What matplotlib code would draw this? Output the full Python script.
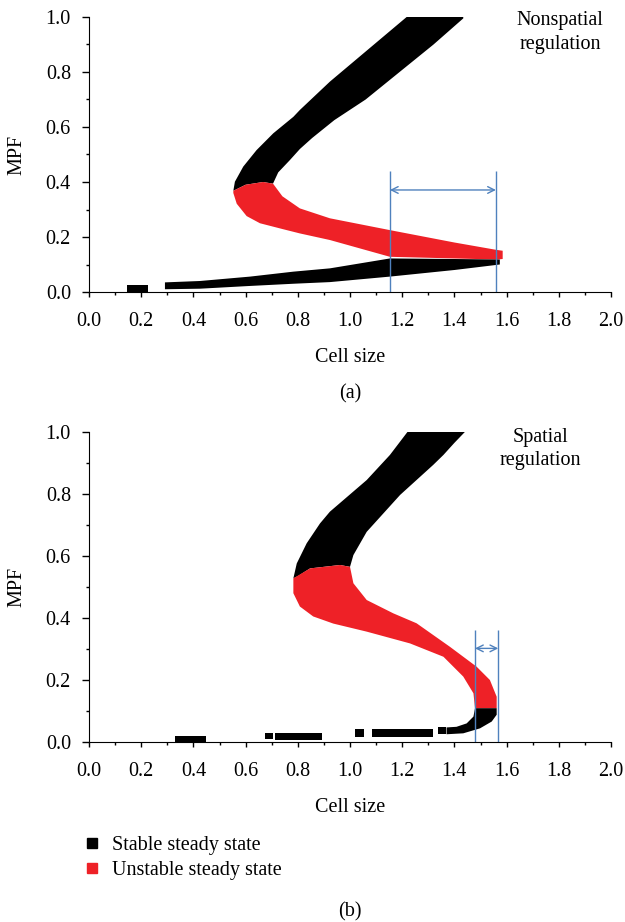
import numpy as np
import matplotlib.pyplot as plt
from matplotlib.lines import Line2D
from matplotlib.ticker import FormatStrFormatter

plt.rcParams['font.family'] = 'Liberation Serif'
plt.rcParams['font.size'] = 14.5

BLACK = '#000000'
RED = '#ee2127'
BLUE = '#4f81bd'

# ---- panel (a): nonspatial regulation ----
# upper stable branch, outline (outer edge up, inner edge down)
a_upper_x = [0.553, 0.559, 0.591, 0.642, 0.706, 0.783, 0.808, 0.923, 1.217, 1.434,
             1.434, 1.32, 1.19, 1.06, 0.94, 0.855, 0.808, 0.77, 0.725, 0.705, 0.667, 0.60]
a_upper_y = [0.368, 0.401, 0.456, 0.516, 0.577, 0.637, 0.662, 0.765, 1.0, 1.0,
             0.995, 0.90, 0.80, 0.70, 0.625, 0.56, 0.52, 0.48, 0.435, 0.394, 0.40, 0.39]
# unstable branch outline
a_red_x = [0.553, 0.60, 0.667, 0.705, 0.741, 0.808, 0.923, 1.153, 1.40, 1.562, 1.585,
           1.585, 1.566, 1.40, 1.153, 0.923, 0.808, 0.741, 0.655, 0.604, 0.566, 0.553]
a_red_y = [0.368, 0.39, 0.40, 0.394, 0.348, 0.304, 0.268, 0.225, 0.18, 0.153, 0.15,
           0.12, 0.118, 0.122, 0.128, 0.189, 0.213, 0.229, 0.25, 0.276, 0.321, 0.36]
# lower stable branch outline
a_lower_x = [0.291, 0.425, 0.617, 0.783, 0.923, 1.153, 1.40, 1.574,
             1.574, 1.40, 1.153, 0.923, 0.783, 0.617, 0.425, 0.291]
a_lower_y = [0.035, 0.040, 0.056, 0.074, 0.086, 0.122, 0.12, 0.118,
             0.10, 0.08, 0.056, 0.036, 0.030, 0.022, 0.012, 0.010]
# isolated stable pieces: x0, x1, y0, y1
a_pieces = [(0.144, 0.227, 0.001, 0.025)]
a_range = [1.153, 1.559]
a_range_top = 0.44
a_arrow_y = 0.371

# ---- panel (b): spatial regulation ----
b_upper_x = [0.783, 0.796, 0.834, 0.885, 0.923, 1.064, 1.153, 1.22, 1.44,
             1.40, 1.358, 1.319, 1.192, 1.064, 1.013, 1.0, 0.962, 0.847, 0.800]
b_upper_y = [0.528, 0.576, 0.641, 0.705, 0.743, 0.845, 0.926, 1.0, 1.0,
             0.965, 0.926, 0.894, 0.797, 0.678, 0.603, 0.565, 0.571, 0.560, 0.535]
b_red_x = [0.783, 0.847, 0.962, 1.0, 1.013, 1.064, 1.166, 1.255, 1.383, 1.485, 1.536,
           1.562, 1.562, 1.479, 1.473, 1.434, 1.358, 1.23, 1.064, 0.936, 0.859, 0.808, 0.783]
b_red_y = [0.528, 0.56, 0.571, 0.565, 0.512, 0.458, 0.415, 0.383, 0.307, 0.243, 0.2,
           0.146, 0.109, 0.109, 0.157, 0.211, 0.275, 0.318, 0.356, 0.382, 0.405, 0.437, 0.48]
b_fold_x = [1.479, 1.562, 1.562, 1.543, 1.498, 1.434, 1.37, 1.37, 1.408, 1.447, 1.473]
b_fold_y = [0.109, 0.109, 0.088, 0.066, 0.044, 0.028, 0.025, 0.047, 0.049, 0.06, 0.082]
b_pieces = [(0.33, 0.45, -0.002, 0.02), (0.674, 0.706, 0.009, 0.03),
            (0.713, 0.891, 0.006, 0.03), (1.019, 1.053, 0.017, 0.041),
            (1.083, 1.319, 0.017, 0.041), (1.338, 1.366, 0.025, 0.047)]
b_range = [1.479, 1.568]
b_range_top = 0.361
b_arrow_y = 0.302

legend_labels = ['Stable steady state', 'Unstable steady state']


def style_axes(ax):
    ax.set_xlim(0, 2)
    ax.set_ylim(0, 1)
    ax.spines['top'].set_visible(False)
    ax.spines['right'].set_visible(False)
    ax.set_xticks(np.arange(0, 2.01, 0.2))
    ax.set_xticks(np.arange(0.1, 2.0, 0.2), minor=True)
    ax.set_yticks(np.arange(0, 1.01, 0.2))
    ax.set_yticks(np.arange(0.1, 1.0, 0.2), minor=True)
    ax.xaxis.set_major_formatter(FormatStrFormatter('%.1f'))
    ax.yaxis.set_major_formatter(FormatStrFormatter('%.1f'))
    ax.tick_params(axis='y', which='major', length=5, width=1, pad=8)
    ax.tick_params(axis='y', which='minor', length=2.5, width=1)
    ax.tick_params(axis='x', which='major', length=3.5, width=1, pad=11)
    ax.tick_params(axis='x', which='minor', length=2.5, width=1)
    ax.set_xlabel('Cell size', labelpad=12)
    ax.set_ylabel('MPF', labelpad=14)


def draw_panel(ax, shapes, pieces, rng, rng_top, arrow_y):
    for xs, ys, c in shapes:
        ax.fill(xs, ys, color=c, lw=0)
    for x0, x1, y0, y1 in pieces:
        ax.fill_between([x0, x1], y0, y1, color=BLACK, lw=0)
    ax.vlines(rng, 0, rng_top, color=BLUE, lw=1)
    ax.annotate('', xy=(rng[1], arrow_y), xytext=(rng[0], arrow_y),
                arrowprops=dict(arrowstyle='<->', color=BLUE, lw=1,
                                shrinkA=0, shrinkB=0, mutation_scale=12))


fig = plt.figure(figsize=(6.25, 9.22), dpi=100)
ax1 = fig.add_axes([89/625, (922-292)/922, 522/625, 275/922])
ax2 = fig.add_axes([89/625, (922-742)/922, 522/625, 310/922])

draw_panel(ax1, [(a_upper_x, a_upper_y, BLACK), (a_red_x, a_red_y, RED),
                 (a_lower_x, a_lower_y, BLACK)],
           a_pieces, a_range, a_range_top, a_arrow_y)
draw_panel(ax2, [(b_upper_x, b_upper_y, BLACK), (b_red_x, b_red_y, RED),
                 (b_fold_x, b_fold_y, BLACK)],
           b_pieces, b_range, b_range_top, b_arrow_y)

for ax in (ax1, ax2):
    style_axes(ax)

ax1.text(1.805, 0.944, 'Nonspatial\nregulation', ha='center', va='center', linespacing=1.3)
ax2.text(1.728, 0.944, 'Spatial\nregulation', ha='center', va='center', linespacing=1.3)

fig.text(350/625, 1 - 394/922, '(a)', ha='center', va='center')
fig.text(350/625, 1 - 912/922, '(b)', ha='center', va='center')

handles = [Line2D([], [], marker='s', color=BLACK, linestyle='', markersize=7),
           Line2D([], [], marker='s', color=RED, linestyle='', markersize=7)]
fig.legend(handles, legend_labels, loc='upper left',
           bbox_to_anchor=(84/625, 1 - 836/922), frameon=False,
           handlelength=0.8, handletextpad=0.6, labelspacing=0.3,
           borderpad=0, borderaxespad=0)

fig.savefig('out.png', dpi=100)
